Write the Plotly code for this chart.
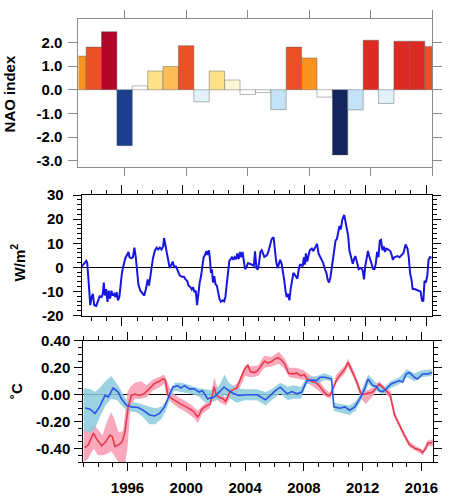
import plotly.graph_objects as go

# ---------------- data ----------------
years = list(range(1993, 2017))
nao = [1.42, 1.80, 2.45, -2.36, 0.16, 0.79, 0.98, 1.86, -0.51, 0.79, 0.41, -0.20,
       -0.12, -0.84, 1.80, 1.34, -0.31, -2.75, -0.85, 2.09, -0.58, 2.05, 2.05, 1.83]

nao_tickvals = [-3.0, -2.0, -1.0, 0.0, 1.0, 2.0]
nao_ticktext = ["-3.0", "-2.0", "-1.0", "0.0", "1.0", "2.0"]

flux_t = [1993.36, 1993.51, 1993.66, 1993.72, 1993.83, 1993.92, 1994.01, 1994.09, 1994.18, 1994.31,
          1994.44, 1994.53, 1994.66, 1994.74, 1994.81, 1994.87, 1994.96, 1995.05, 1995.13, 1995.22,
          1995.31, 1995.39, 1995.48, 1995.57, 1995.65, 1995.74, 1995.83, 1995.91, 1996.00, 1996.11,
          1996.22, 1996.33, 1996.43, 1996.50, 1996.61, 1996.72, 1996.82, 1996.91, 1997.00, 1997.08,
          1997.21, 1997.34, 1997.47, 1997.60, 1997.69, 1997.78, 1997.86, 1997.95, 1998.04, 1998.17,
          1998.28, 1998.38, 1998.49, 1998.60, 1998.71, 1998.77, 1998.86, 1998.95, 1999.03, 1999.14,
          1999.25, 1999.34, 1999.42, 1999.55, 1999.68, 1999.81, 1999.94, 2000.07, 2000.18, 2000.29,
          2000.38, 2000.51, 2000.59, 2000.68, 2000.77, 2000.85, 2000.94, 2001.03, 2001.11, 2001.20,
          2001.29, 2001.37, 2001.46, 2001.55, 2001.63, 2001.72, 2001.79, 2001.85, 2001.92, 2001.98,
          2002.07, 2002.15, 2002.24, 2002.33, 2002.41, 2002.50, 2002.63, 2002.72, 2002.80, 2002.89,
          2002.98, 2003.06, 2003.15, 2003.24, 2003.32, 2003.41, 2003.50, 2003.58, 2003.67, 2003.76,
          2003.84, 2003.93, 2004.02, 2004.10, 2004.19, 2004.28, 2004.41, 2004.54, 2004.67, 2004.75,
          2004.84, 2004.93, 2005.01, 2005.10, 2005.19, 2005.27, 2005.36, 2005.45, 2005.53, 2005.62,
          2005.71, 2005.84, 2005.97, 2006.05, 2006.14, 2006.23, 2006.31, 2006.40, 2006.49, 2006.57,
          2006.66, 2006.75, 2006.83, 2006.92, 2007.01, 2007.09, 2007.18, 2007.27, 2007.40, 2007.53,
          2007.62, 2007.70, 2007.79, 2007.88, 2007.96, 2008.03, 2008.09, 2008.18, 2008.27, 2008.35,
          2008.48, 2008.57, 2008.70, 2008.83, 2008.92, 2009.00, 2009.09, 2009.22, 2009.35, 2009.44,
          2009.52, 2009.61, 2009.70, 2009.78, 2009.87, 2009.96, 2010.04, 2010.13, 2010.22, 2010.30,
          2010.39, 2010.48, 2010.61, 2010.69, 2010.78, 2010.87, 2010.95, 2011.08, 2011.17, 2011.26,
          2011.34, 2011.47, 2011.56, 2011.65, 2011.73, 2011.82, 2011.91, 2011.99, 2012.08, 2012.17,
          2012.25, 2012.34, 2012.43, 2012.51, 2012.60, 2012.69, 2012.77, 2012.86, 2012.95, 2013.03,
          2013.12, 2013.21, 2013.29, 2013.38, 2013.51, 2013.64, 2013.73, 2013.81, 2013.90, 2013.99,
          2014.12, 2014.25, 2014.38, 2014.51, 2014.64, 2014.77, 2014.85, 2014.94, 2015.03, 2015.11,
          2015.24, 2015.37, 2015.50, 2015.63, 2015.72, 2015.81, 2015.89, 2015.98, 2016.07, 2016.15,
          2016.24, 2016.37]
flux_v = [0.4, 1.7, 2.7, 1.7, -6.3, -15.7, -12.3, -11.0, -15.7, -16.0,
          -13.7, -12.0, -12.3, -11.0, -6.3, -11.7, -9.0, -14.3, -9.7, -13.0,
          -9.7, -11.7, -11.0, -12.3, -10.3, -13.7, -12.3, -6.3, -2.3, 1.0,
          3.8, 5.1, 6.4, 4.2, 3.8, 4.2, 8.2, 4.2, -2.9, -7.0,
          -9.7, -10.6, -11.7, -8.3, -5.0, -7.6, -3.6, 0.4, 3.8, 7.1,
          8.2, 7.4, 8.2, 7.4, 8.7, 12.2, 9.1, 6.4, 3.1, -0.3,
          1.1, 2.4, 0.4, 0.4, -1.6, -3.4, -3.9, -3.9, -5.0, -5.6,
          -7.6, -8.3, -9.2, -8.3, -10.3, -9.7, -15.7, -9.0, -6.3, -3.6,
          -0.3, 4.2, 5.1, 6.8, 5.1, 7.1, 3.1, -2.3, -0.9, -6.3,
          -3.6, -7.0, -7.6, -11.0, -13.0, -14.3, -13.7, -14.1, -12.3, -7.0,
          -0.3, 2.8, 3.4, 4.4, 3.1, 4.2, 3.4, 5.8, 3.4, 6.4,
          4.2, 6.4, 2.4, -0.7, 0.1, 1.7, 1.5, 1.1, 0.7, 6.7,
          -0.3, -0.9, 1.7, 6.4, 7.1, 5.8, 4.4, 4.7, 5.1, 6.4,
          9.1, 11.8, 12.5, 7.1, 2.4, -0.3, 1.1, 3.1, 1.7, -0.9,
          -5.0, -9.7, -12.3, -11.0, -13.7, -9.0, -5.0, -2.3, -3.4, -4.7,
          -0.9, 1.1, 1.1, 0.4, 4.2, 1.1, 5.8, 2.4, 5.1, 7.1,
          7.8, 6.8, 8.2, 9.8, 5.8, 4.7, 3.8, 2.0, -0.9, -2.3,
          -5.0, -6.3, -4.3, -0.9, 4.4, 8.4, 11.1, 11.8, 14.5, 17.2,
          15.8, 19.8, 21.8, 19.2, 16.5, 13.1, 7.1, 4.2, 1.5, 3.4,
          4.7, 1.7, -0.7, -0.3, -0.3, -1.2, -5.0, 0.4, 3.8, 6.8,
          4.7, 3.1, 1.1, -0.7, -0.7, 1.7, 6.4, 4.2, 11.1, 11.4,
          7.1, 8.7, 6.4, 7.8, 7.4, 6.8, 5.1, 3.1, 4.2, 4.4,
          4.7, 4.2, 5.1, 6.0, 9.5, 7.8, 4.4, -2.3, -5.0, -9.0,
          -9.0, -9.2, -9.7, -10.0, -13.7, -14.1, -5.6, -6.3, -3.6, 3.1,
          4.2, 4.0]
flux_tickvals = [-20, -10, 0, 10, 20, 30]
flux_ticktext = ["-20", "-10", "0", "10", "20", "30"]

red_t = [1993.08, 1993.35, 1993.68, 1993.91, 1994.25, 1994.52, 1994.81, 1994.97, 1995.15, 1995.42,
         1995.64, 1995.82, 1996.05, 1996.27, 1996.50, 1996.83, 1997.17, 1997.51, 1997.85, 1998.18,
         1998.41, 1998.57, 1998.74, 1998.97, 1999.31, 1999.64, 1999.98, 2000.32, 2000.54, 2000.77,
         2000.88, 2001.04, 2001.33, 2001.62, 2001.78, 2001.90, 2002.03, 2002.23, 2002.46, 2002.68,
         2002.91, 2003.13, 2003.43, 2003.70, 2003.97, 2004.19, 2004.37, 2004.64, 2004.87, 2005.09,
         2005.32, 2005.54, 2005.77, 2006.01, 2006.24, 2006.46, 2006.69, 2006.96, 2007.25, 2007.52,
         2007.79, 2008.02, 2008.24, 2008.53, 2008.83, 2009.10, 2009.37, 2009.61, 2009.77, 2010.00,
         2010.27, 2010.56, 2010.78, 2011.01, 2011.17, 2011.39, 2011.62, 2011.91, 2012.20, 2012.47,
         2012.69, 2012.92, 2013.14, 2013.37, 2013.64, 2013.86, 2014.16, 2014.50, 2014.84, 2015.17,
         2015.57, 2015.89, 2016.07, 2016.29, 2016.45, 2016.74]
red_v = [-0.395, -0.37, -0.285, -0.33, -0.38, -0.35, -0.30, -0.31, -0.385, -0.37,
         -0.35, -0.28, -0.09, -0.005, 0.005, -0.005, 0.01, 0.05, 0.085, 0.10,
         0.12, 0.11, 0.0, -0.025, -0.05, -0.07, -0.09, -0.11, -0.13, -0.165,
         -0.15, -0.11, -0.085, -0.07, 0.0, 0.06, 0.0, -0.02, -0.025, -0.05,
         0.01, 0.035, 0.05, 0.12, 0.19, 0.22, 0.17, 0.165, 0.18, 0.215,
         0.25, 0.235, 0.245, 0.265, 0.275, 0.26, 0.23, 0.16, 0.155, 0.16,
         0.14, 0.15, 0.115, 0.10, 0.09, 0.06, 0.02, -0.005, -0.005, 0.05,
         0.12, 0.16, 0.19, 0.24, 0.20, 0.15, 0.09, 0.0, 0.005, 0.015,
         0.02, 0.05, 0.08, 0.055, 0.025, 0.0, -0.15, -0.22, -0.30, -0.37,
         -0.40, -0.41, -0.43, -0.40, -0.36, -0.355]

red_band_t = [1993.0, 1993.3, 1993.7, 1994.0, 1994.3, 1994.6, 1994.9, 1995.1, 1995.4, 1995.7,
              1995.85, 1996.0, 1996.2, 1996.5, 1996.9, 1997.3, 1997.7, 1998.1, 1998.5, 1998.7,
              1999.0, 1999.5, 2000.0, 2000.5, 2000.8, 2001.1, 2001.6, 2001.9, 2002.2, 2002.7,
              2003.1, 2003.5, 2004.0, 2004.4, 2004.9, 2005.3, 2005.8, 2006.3, 2006.7, 2007.0,
              2007.5, 2008.0, 2008.5, 2009.0, 2009.4, 2009.8, 2010.2, 2010.8, 2011.0, 2011.4,
              2011.9, 2012.2, 2012.7, 2013.1, 2013.6, 2013.9, 2014.2, 2014.8, 2015.2, 2015.6,
              2016.1, 2016.4, 2016.8]
red_band_hi = [-0.25, -0.27, -0.22, -0.26, -0.30, -0.20, -0.13, -0.18, -0.28, -0.27,
               -0.10, 0.02, 0.06, 0.09, 0.10, 0.07, 0.11, 0.13, 0.15, 0.10,
               0.02, -0.02, -0.05, -0.09, -0.12, -0.08, -0.04, 0.13, 0.02, -0.02,
               0.06, 0.09, 0.22, 0.21, 0.22, 0.29, 0.28, 0.32, 0.27, 0.20,
               0.20, 0.18, 0.14, 0.11, 0.05, 0.01, 0.15, 0.22, 0.27, 0.18,
               0.03, 0.03, 0.05, 0.10, 0.05, 0.03, -0.13, -0.28, -0.35, -0.38,
               -0.41, -0.34, -0.33]
red_band_lo = [-0.50, -0.48, -0.40, -0.45, -0.45, -0.44, -0.42, -0.45, -0.50, -0.52,
               -0.50, -0.40, -0.10, -0.03, -0.03, -0.02, 0.03, 0.05, 0.08, -0.02,
               -0.06, -0.10, -0.13, -0.17, -0.21, -0.14, -0.10, 0.0, -0.05, -0.08,
               0.0, 0.02, 0.14, 0.13, 0.14, 0.20, 0.21, 0.23, 0.19, 0.13,
               0.12, 0.11, 0.07, 0.03, -0.01, -0.03, 0.09, 0.16, 0.21, 0.12,
               -0.03, -0.07, -0.01, 0.06, 0.0, -0.03, -0.17, -0.32, -0.39, -0.42,
               -0.45, -0.38, -0.38]

blue_t = [1993.12, 1993.46, 1993.79, 1994.13, 1994.47, 1994.69, 1995.03, 1995.37, 1995.59, 1995.93,
          1996.27, 1996.72, 1997.06, 1997.51, 1997.85, 1998.18, 1998.52, 1998.86, 1999.08, 1999.42,
          1999.64, 1999.87, 2000.21, 2000.54, 2000.88, 2001.11, 2001.45, 2001.90, 2002.23, 2002.57,
          2002.91, 2003.25, 2003.58, 2004.15, 2004.82, 2005.38, 2005.72, 2006.06, 2006.40, 2006.62,
          2006.85, 2007.18, 2007.52, 2007.86, 2008.20, 2008.53, 2008.87, 2009.10, 2009.43, 2009.88,
          2010.04, 2010.45, 2010.78, 2011.12, 2011.46, 2011.80, 2012.13, 2012.36, 2012.69, 2012.92,
          2013.14, 2013.37, 2013.60, 2013.93, 2014.27, 2014.50, 2014.72, 2014.95, 2015.17, 2015.51,
          2015.73, 2016.07, 2016.41, 2016.74]
blue_v = [-0.098, -0.107, -0.139, -0.085, -0.005, -0.017, 0.05, 0.02, -0.03, -0.078,
          -0.09, -0.095, -0.115, -0.15, -0.158, -0.139, -0.09, -0.005, 0.056, 0.068,
          0.05, 0.068, 0.044, 0.044, 0.02, 0.03, -0.03, -0.017, 0.02, 0.056,
          0.03, 0.007, -0.005, 0.0, 0.0, -0.037, -0.005, 0.03, 0.056, 0.03,
          0.007, 0.024, 0.007, 0.02, 0.105, 0.11, 0.105, 0.13, 0.13, 0.117,
          -0.09, -0.10, -0.09, -0.115, -0.09, -0.03, 0.044, 0.117, 0.068, 0.061,
          0.03, 0.024, 0.044, 0.08, 0.093, 0.105, 0.093, 0.154, 0.166, 0.13,
          0.117, 0.154, 0.154, 0.166]

blue_band_t = [1993.0, 1993.5, 1993.8, 1994.1, 1994.5, 1994.9, 1995.3, 1995.6, 1996.0, 1996.6,
               1997.0, 1997.5, 1997.9, 1998.3, 1998.6, 1998.9, 1999.2, 1999.7, 2000.2, 2000.8,
               2001.3, 2001.9, 2002.3, 2002.6, 2002.9, 2003.4, 2004.0, 2004.8, 2005.4, 2005.8,
               2006.4, 2006.9, 2007.3, 2007.8, 2008.2, 2008.9, 2009.4, 2009.9, 2010.05, 2010.5,
               2011.1, 2011.5, 2011.8, 2012.1, 2012.4, 2012.9, 2013.4, 2013.9, 2014.5, 2015.0,
               2015.5, 2016.0, 2016.7]
blue_band_hi = [0.05, 0.04, 0.02, 0.05, 0.10, 0.14, 0.08, 0.02, -0.05, -0.06,
                -0.07, -0.09, -0.10, -0.09, -0.05, 0.03, 0.09, 0.09, 0.07, 0.05,
                0.04, 0.03, 0.08, 0.15, 0.09, 0.05, 0.04, 0.04, 0.02, 0.04,
                0.09, 0.06, 0.07, 0.06, 0.13, 0.14, 0.16, 0.14, -0.06, -0.07,
                -0.08, -0.05, 0.0, 0.08, 0.15, 0.09, 0.05, 0.10, 0.13, 0.19,
                0.16, 0.18, 0.19]
blue_band_lo = [-0.27, -0.28, -0.25, -0.17, -0.08, -0.03, -0.04, -0.08, -0.12, -0.13,
                -0.16, -0.22, -0.22, -0.18, -0.12, -0.03, 0.03, 0.02, 0.01, -0.01,
                -0.06, -0.05, -0.03, 0.0, -0.02, -0.06, -0.04, -0.04, -0.08, -0.04,
                0.01, -0.04, -0.03, -0.03, 0.08, 0.08, 0.11, 0.10, -0.12, -0.13,
                -0.15, -0.12, -0.06, 0.0, 0.08, 0.03, 0.0, 0.05, 0.08, 0.13,
                0.10, 0.13, 0.14]

temp_tickvals = [-0.4, -0.2, 0.0, 0.2, 0.4]
temp_ticktext = ["-0.40", "-0.20", "0.00", "0.20", "0.40"]
year_tickvals = [1996, 2000, 2004, 2008, 2012, 2016]
year_ticktext = ["1996", "2000", "2004", "2008", "2012", "2016"]


# ---------------- styling helpers ----------------
def nao_color(v):
    if v >= 2.3:
        return "#B1062A"
    if v >= 2.0:
        return "#DC2B22"
    if v >= 1.6:
        return "#EB5127"
    if v >= 1.2:
        return "#F7931E"
    if v >= 0.9:
        return "#FBBE57"
    if v >= 0.6:
        return "#FDE28A"
    if v >= 0.3:
        return "#FFF6D3"
    if v >= -0.35:
        return "#FFFFFF"
    if v >= -0.7:
        return "#E2F1FA"
    if v >= -1.0:
        return "#C4E3F6"
    if v >= -2.5:
        return "#1D3F8F"
    return "#14245C"


W, H = 449, 500
FONT = "Liberation Sans, Arial, Helvetica, sans-serif"


def dx(left, right):
    return [left / W, right / W]


def dy(top, bottom):
    return [1 - bottom / H, 1 - top / H]


tickfont = dict(family=FONT, size=15, color="black", weight="bold")

fig = go.Figure()

# Panel 1: NAO bars
fig.add_trace(go.Bar(
    x=years, y=nao, width=1.0,
    marker=dict(color=[nao_color(v) for v in nao],
                line=dict(color="rgba(90,90,90,0.55)", width=0.8)),
    xaxis="x", yaxis="y", showlegend=False, hoverinfo="skip"))

# Panel 2: flux line
fig.add_trace(go.Scatter(
    x=flux_t, y=flux_v, mode="lines",
    line=dict(color="#1616E0", width=2),
    xaxis="x2", yaxis="y2", showlegend=False, hoverinfo="skip"))

# Panel 3: bands and lines
fig.add_trace(go.Scatter(
    x=red_band_t + red_band_t[::-1], y=red_band_hi + red_band_lo[::-1],
    fill="toself", fillcolor="rgba(248,160,180,0.9)", line=dict(width=0),
    mode="lines", xaxis="x3", yaxis="y3", showlegend=False, hoverinfo="skip"))
fig.add_trace(go.Scatter(
    x=blue_band_t + blue_band_t[::-1], y=blue_band_hi + blue_band_lo[::-1],
    fill="toself", fillcolor="rgba(140,202,222,0.85)", line=dict(width=0),
    mode="lines", xaxis="x3", yaxis="y3", showlegend=False, hoverinfo="skip"))
fig.add_trace(go.Scatter(
    x=red_t, y=red_v, mode="lines", line=dict(color="#E8394F", width=1.6),
    xaxis="x3", yaxis="y3", showlegend=False, hoverinfo="skip"))
fig.add_trace(go.Scatter(
    x=blue_t, y=blue_v, mode="lines", line=dict(color="#2A55E6", width=1.6),
    xaxis="x3", yaxis="y3", showlegend=False, hoverinfo="skip"))

gray = "#8C8C8C"
common = dict(showgrid=False, showline=True, mirror="ticks", ticks="outside")

fig.update_layout(
    width=W, height=H, margin=dict(l=0, r=0, t=0, b=0),
    paper_bgcolor="white", plot_bgcolor="white",
    xaxis=dict(domain=dx(79.3, 437.3), anchor="y", range=[1993, 2016],
               tickmode="array", tickvals=year_tickvals, showticklabels=False,
               ticklen=8, tickcolor=gray, linecolor=gray, linewidth=1, zeroline=False, **common),
    yaxis=dict(domain=dy(10, 163.3), anchor="x", range=[-3.25, 3.0],
               tickmode="array", tickvals=nao_tickvals, ticktext=nao_ticktext,
               ticklen=9, tickcolor=gray, linecolor=gray, linewidth=1, zeroline=False,
               tickfont=tickfont, ticklabelstandoff=3, **common),
    xaxis2=dict(domain=dx(82.7, 436.7), anchor="y2", range=[1993.36, 2016.37],
                tickmode="array", tickvals=year_tickvals, showticklabels=False,
                ticklen=9, tickcolor="black", linecolor="black", linewidth=1.2, zeroline=False,
                minor=dict(dtick=1, tick0=1996, ticks="outside", ticklen=4, tickcolor="black"),
                **common),
    yaxis2=dict(domain=dy(192.7, 317.3), anchor="x2", range=[-20, 30],
                tickmode="array", tickvals=flux_tickvals, ticktext=flux_ticktext,
                ticklen=8, tickcolor="black", linecolor="black", linewidth=1.2,
                zeroline=True, zerolinecolor="black", zerolinewidth=1.3,
                minor=dict(dtick=2, tick0=0, ticks="outside", ticklen=4, tickcolor="black"),
                tickfont=tickfont, ticklabelstandoff=6, **common),
    xaxis3=dict(domain=dx(84.3, 438), anchor="y3", range=[1993.0, 2016.79],
                tickmode="array", tickvals=year_tickvals, ticktext=year_ticktext,
                ticklen=8, tickcolor="black", linecolor="black", linewidth=1.2, zeroline=False,
                minor=dict(dtick=1, tick0=1996, ticks="outside", ticklen=4, tickcolor="black"),
                tickfont=tickfont, ticklabelstandoff=4, **common),
    yaxis3=dict(domain=dy(343.6, 469), anchor="x3", range=[-0.5, 0.4],
                tickmode="array", tickvals=temp_tickvals, ticktext=temp_ticktext,
                ticklen=8, tickcolor="black", linecolor="black", linewidth=1.2,
                zeroline=True, zerolinecolor="black", zerolinewidth=1.1,
                minor=dict(dtick=0.05, tick0=0, ticks="outside", ticklen=4, tickcolor="black"),
                tickfont=tickfont, ticklabelstandoff=1, **common),
    annotations=[
        dict(text="NAO index", x=9.5 / W, y=1 - 88 / H, xref="paper", yref="paper",
             textangle=-90, showarrow=False, xanchor="center", yanchor="middle",
             font=dict(family=FONT, size=15, color="black", weight="bold")),
        dict(text="W/m<sup>2</sup>", x=17.5 / W, y=1 - 262 / H, xref="paper", yref="paper",
             textangle=-90, showarrow=False, xanchor="center", yanchor="middle",
             font=dict(family=FONT, size=15, color="black", weight="bold")),
        dict(text="˚C", x=16.5 / W, y=1 - 395 / H, xref="paper", yref="paper",
             textangle=-90, showarrow=False, xanchor="center", yanchor="middle",
             font=dict(family=FONT, size=15, color="black", weight="bold")),
    ],
)

fig.write_html("out.html", config={"displayModeBar": False},
               post_script="document.body.style.margin='0';document.body.style.overflow='hidden';")
